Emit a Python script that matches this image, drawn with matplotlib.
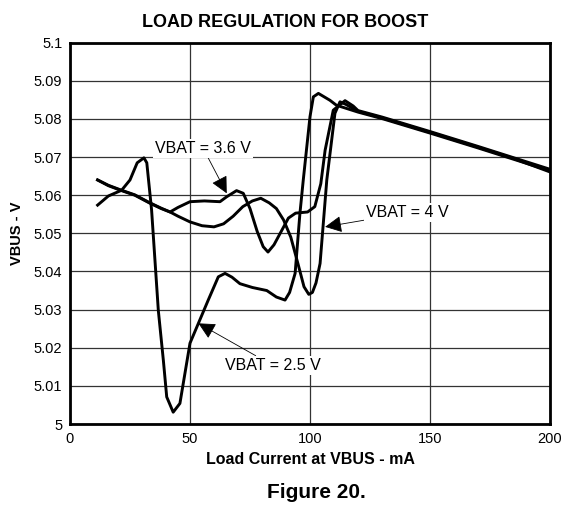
import matplotlib
matplotlib.use('Agg')
import matplotlib.pyplot as plt

plt.rcParams['font.family'] = ['Liberation Sans', 'DejaVu Sans']

# VBAT = 2.5 V
x_25 = [11.5, 16, 21.5, 25, 28, 30.8, 32, 34, 36.8, 38.9, 40.3, 43, 45.8, 47.9, 50,
        53.5, 57.6, 61.8, 64.6, 67.5, 70.8, 76, 82, 86, 89.6, 91.5, 93.8, 95.8, 97.2,
        100, 101.4, 103.5, 108.3, 111, 120, 130, 150, 170, 185, 200]
y_25 = [5.0574, 5.0598, 5.0613, 5.0640, 5.0685, 5.0698, 5.0685, 5.0561, 5.0298, 5.0167,
        5.0071, 5.0031, 5.0054, 5.0133, 5.0212, 5.0264, 5.0325, 5.0386, 5.0395, 5.0385,
        5.0368, 5.0358, 5.0350, 5.0333, 5.0325, 5.0345, 5.0395, 5.0552, 5.0640, 5.0806,
        5.0858, 5.0867, 5.0849, 5.0836, 5.0818, 5.0801, 5.0763, 5.0724, 5.0694, 5.0664]

# VBAT = 3.6 V
x_36 = [11.5, 16, 21.5, 27, 33, 38, 41.7, 45, 50, 56, 62.5, 65.3, 69.4, 72.2, 75, 78,
        80.5, 82.5, 85, 88, 91, 94, 99, 102, 104.5, 106.3, 109.7, 114.6, 118, 120, 130,
        150, 170, 185, 200]
y_36 = [5.0640, 5.0625, 5.0612, 5.0600, 5.0580, 5.0565, 5.0556, 5.0568, 5.0583, 5.0585,
        5.0583, 5.0596, 5.0612, 5.0605, 5.0565, 5.0505, 5.0465, 5.0451, 5.0470, 5.0505,
        5.0540, 5.0553, 5.0556, 5.0570, 5.0630, 5.0718, 5.0823, 5.0848, 5.0834, 5.0822,
        5.0805, 5.0767, 5.0728, 5.0698, 5.0668]

# VBAT = 4 V
x_40 = [11.5, 16, 21.5, 27, 33, 38, 41.7, 45, 50, 55, 60, 64, 68, 72, 76, 79.5, 83, 86,
        89, 92, 95, 97.5, 99.5, 101, 102.5, 104.2, 107, 110.4, 112.5, 115, 120, 130, 150,
        170, 185, 200]
y_40 = [5.0640, 5.0626, 5.0613, 5.0601, 5.0581, 5.0566, 5.0556, 5.0545, 5.0530, 5.0520,
        5.0517, 5.0525, 5.0545, 5.0570, 5.0585, 5.0592, 5.0580, 5.0565, 5.0535, 5.0490,
        5.0420, 5.0360, 5.0340, 5.0345, 5.0370, 5.0421, 5.0640, 5.0815, 5.0845, 5.0838,
        5.0820, 5.0803, 5.0765, 5.0726, 5.0696, 5.0661]

x_ticks = [0, 50, 100, 150, 200]
y_ticks = [5.0, 5.01, 5.02, 5.03, 5.04, 5.05, 5.06, 5.07, 5.08, 5.09, 5.1]
y_tick_labels = ['5', '5.01', '5.02', '5.03', '5.04', '5.05', '5.06', '5.07', '5.08', '5.09', '5.1']

fig = plt.figure(figsize=(5.7, 5.07), dpi=100)
ax = fig.add_axes([0.1228, 0.1637, 0.8421, 0.7521])

for xs, ys in [(x_25, y_25), (x_36, y_36), (x_40, y_40)]:
    ax.plot(xs, ys, color='black', lw=2.1, solid_joinstyle='round', zorder=3)

ax.set_xlim(0, 200)
ax.set_ylim(5.0, 5.1)
ax.set_xticks(x_ticks)
ax.set_xticklabels([str(t) for t in x_ticks])
ax.set_yticks(y_ticks)
ax.set_yticklabels(y_tick_labels)
ax.tick_params(length=0, labelsize=10.5, pad=5.5)
ax.grid(True, color='#333333', lw=0.9)
ax.set_axisbelow(True)
for s in ax.spines.values():
    s.set_linewidth(2)

ax.set_xlabel('Load Current at VBUS - mA', fontsize=11.5, fontweight='bold', va='top')
ax.xaxis.set_label_coords(0.5, -0.074)
ax.set_ylabel('VBUS - V', fontsize=10.5, fontweight='bold', labelpad=7)
fig.text(0.501, 0.947, 'LOAD REGULATION FOR BOOST', ha='center', va='baseline',
         fontsize=13, fontweight='bold')

# annotations
box = dict(facecolor='white', edgecolor='none', pad=1.5)
arrow = dict(arrowstyle='-|>,head_length=0.9,head_width=0.45', color='black', lw=0.6,
             shrinkA=0, shrinkB=0)
ax.annotate('VBAT = 3.6 V', xy=(65.3, 5.0605), xytext=(55.5, 5.0723),
            ha='center', va='center', fontsize=11.5, bbox=box, arrowprops=arrow, zorder=4)
ax.annotate('VBAT = 4 V', xy=(106.3, 5.0517), xytext=(123.5, 5.0554),
            ha='left', va='center', fontsize=11.5, bbox=box, arrowprops=arrow, zorder=4)
ax.annotate('VBAT = 2.5 V', xy=(53.5, 5.0264), xytext=(64.5, 5.0154),
            ha='left', va='center', fontsize=11.5, bbox=box, arrowprops=arrow, zorder=4)

fig.text(0.5556, 0.0178, 'Figure 20.', ha='center', va='baseline', fontsize=15, fontweight='bold')

fig.savefig('out.png', dpi=100)
